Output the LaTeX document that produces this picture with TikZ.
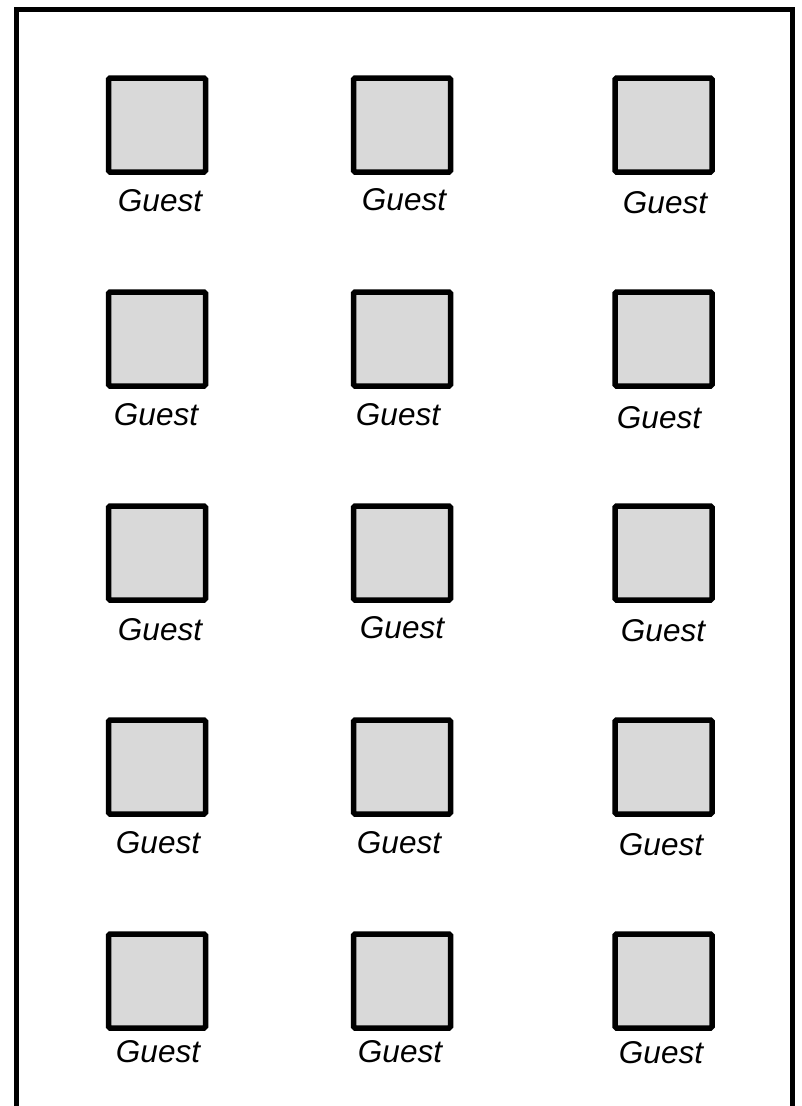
\documentclass[tikz,border=0pt]{standalone}
\usepackage{fontspec}
\setmainfont{Liberation Sans}
\definecolor{boxfill}{HTML}{D9D9D9}
\begin{document}
\begin{tikzpicture}[x=1pt,y=-1pt,
  seat/.style={draw=black,fill=boxfill,line width=5.5pt,rounded corners=1.5pt,
    minimum width=97pt,minimum height=94pt,inner sep=0pt,outer sep=0pt},
  guestlabel/.style={inner sep=0pt,font=\fontsize{31.5}{31.5}\selectfont\itshape},
  frame/.style={draw=black,line width=5pt}]
\useasboundingbox (0,0) rectangle (802,1106);
\clip (0,0) rectangle (802,1106);
\coordinate (fbl) at (16,1120);
\coordinate (ftl) at (16,9);
\coordinate (ftr) at (792,9);
\coordinate (fbr) at (792,1120);
\draw[frame] (fbl) -- (ftl) -- (ftr) -- (fbr);
% seats
\foreach \r/\y in {1/125,2/339,3/553,4/767,5/981}{
  \foreach \c/\x in {1/157,2/402,3/663.5}{
    \node[seat] (b\r\c) at (\x,\y) {};
  }
}
% labels
\foreach \n/\x/\y in {11/160/201,12/404/200,13/665/203,
  21/156/415,22/398/415,23/659/418,
  31/160/630,32/402/628,33/663/631,
  41/158/843,42/399/843,43/661/845,
  51/158/1052,52/400/1052,53/661/1053}{
  \node[guestlabel] (l\n) at (\x,\y) {Guest};
}
\end{tikzpicture}
\end{document}
